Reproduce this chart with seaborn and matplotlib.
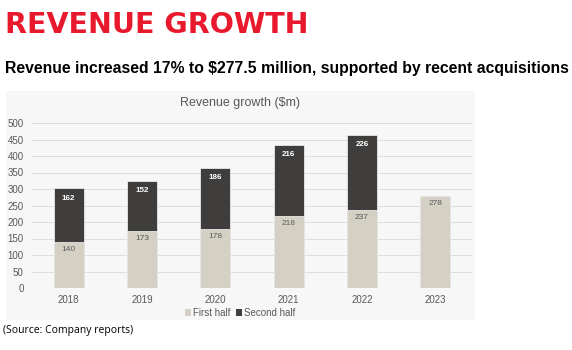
# Revenue growth chart - stacked halves
import numpy as np
import pandas as pd
import matplotlib.pyplot as plt
import seaborn as sns
from matplotlib.patches import Rectangle, Patch

# Datos
years = ['2018', '2019', '2020', '2021', '2022', '2023']
first_half = [140, 173, 178, 218, 237, 278]
second_half = [162, 152, 186, 216, 226, 0]
y_ticks = list(range(0, 501, 50))

sns.set_theme(style="white")
plt.rcParams['font.family'] = ['Liberation Sans', 'DejaVu Sans']

df = pd.DataFrame({'year': years, 'first': first_half, 'second': second_half})
df['total'] = df['first'] + df['second']

c_first = '#d4d1c4'
c_second = '#3f3e3c'
c_text = '#595959'
panel_bg = '#f7f7f7'

W, H = 572, 350
fig = plt.figure(figsize=(W / 100, H / 100), dpi=100)
fig.patch.set_facecolor('white')

# panel de fondo
fig.patches.append(Rectangle((6 / W, 1 - 320 / H), (475 - 6) / W, (320 - 91) / H,
                             transform=fig.transFigure, facecolor=panel_bg,
                             edgecolor='none', zorder=-1))

ax = fig.add_axes([32 / W, 1 - 288 / H, (472 - 32) / W, (288 - 123) / H])
ax.set_facecolor('none')
ax.set_zorder(1)

sns.barplot(data=df, x='year', y='total', color=c_second, width=0.41,
            edgecolor='#e8e8e8', linewidth=0.6, saturation=1, ax=ax, zorder=3)
sns.barplot(data=df, x='year', y='first', color=c_first, width=0.41,
            edgecolor='#e8e8e8', linewidth=0.6, saturation=1, ax=ax, zorder=3)

# etiquetas
for i, (f, s) in enumerate(zip(first_half, second_half)):
    ax.annotate(str(f), (i, f), xytext=(0, -5.5), textcoords='offset points',
                ha='center', va='center', fontsize=6, color=c_text, zorder=5)
    if s > 0:
        ax.annotate(str(s), (i, f + s), xytext=(0, -7), textcoords='offset points',
                    ha='center', va='center', fontsize=5.8, color='white',
                    fontweight='bold', zorder=5)

ax.set_ylim(0, 500)
ax.set_xlim(-0.5, 5.5)
ax.set_yticks(y_ticks)
ax.yaxis.grid(True, color='#dedede', lw=0.7, zorder=0)
ax.set_axisbelow(True)
for sp in ax.spines.values():
    sp.set_visible(False)
ax.set_xlabel('')
ax.set_ylabel('')
ax.tick_params(axis='both', length=0, labelsize=7, colors=c_text)
ax.tick_params(axis='y', pad=6)
ax.tick_params(axis='x', pad=5)

fig.text(240 / W, 1 - 103 / H, 'Revenue growth ($m)', ha='center', va='center',
         fontsize=9, color=c_text)

handles = [Patch(facecolor=c_first, edgecolor='none', label='First half'),
           Patch(facecolor=c_second, edgecolor='none', label='Second half')]
fig.legend(handles=handles, loc='center', bbox_to_anchor=(240 / W, 1 - 313 / H),
           ncol=2, frameon=False, fontsize=7, handlelength=0.6, handleheight=0.6,
           handletextpad=0.2, columnspacing=0.6, labelcolor=c_text)

# títulos
fig.text(5 / W, 1 - 25 / H, 'REVENUE GROWTH', ha='left', va='center',
         fontsize=20.5, color='#e8192c', fontweight='black',
         family=['DejaVu Sans'])
fig.text(5 / W, 1 - 68 / H,
         'Revenue increased 17% to $277.5 million, supported by recent acquisitions',
         ha='left', va='center', fontsize=11.3, fontweight='bold', color='black')
fig.text(3 / W, 1 - 331 / H, '(Source: Company reports)', ha='left', va='center',
         fontsize=7.5, color='black', family=['Open Sans', 'DejaVu Sans'])

fig.savefig('out.png', dpi=100)
